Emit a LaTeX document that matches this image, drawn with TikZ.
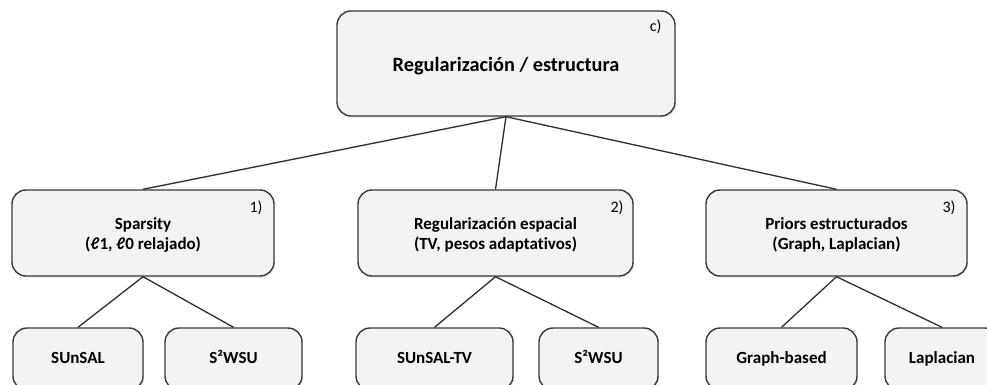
\documentclass[tikz,border=0pt]{standalone}
\usepackage{fontspec}
\setmainfont[Ligatures=NoCommon]{Carlito}
\usetikzlibrary{shadows}
\definecolor{boxfill}{HTML}{F3F3F3}
\definecolor{boxline}{HTML}{3A3A3A}
\definecolor{wire}{HTML}{2E2E2E}
\begin{document}
\begin{tikzpicture}[x=1pt,y=-1pt,
  box/.style={draw=boxline, fill=boxfill, line width=1.4pt, rounded corners=14pt,
    inner sep=0pt, drop shadow={opacity=0.22, shadow xshift=1.2pt, shadow yshift=-1.6pt}},
  title/.style={font=\fontsize{20.3}{24}\selectfont\bfseries, text=black, inner sep=0pt},
  head/.style={font=\fontsize{17}{20}\selectfont\bfseries, text=black, inner sep=0pt},
  leaf/.style={font=\fontsize{17}{20}\selectfont\bfseries, text=black, inner sep=0pt},
  tag/.style={font=\fontsize{16}{19}\selectfont, text=black, inner sep=0pt, anchor=base east},
  wire/.style={draw=wire, line width=1.3pt}]
\useasboundingbox (0,0) rectangle (987,385);
\clip (0,0) rectangle (987,385);
\fill[white] (0,0) rectangle (987,385);

% top level
\node[box, minimum width=338pt, minimum height=105pt] (top) at (506,63.5) {};
\node[title, anchor=base] (topT) at (506,72) {Regularización / estructura};
\node[tag] (topN) at ([shift={(-14,21)}]top.north east) {c)};

% second level
\node[box, minimum width=262pt, minimum height=86pt] (sp) at (143,233) {};
\node[box, minimum width=275pt, minimum height=86pt] (re) at (495.5,233) {};
\node[box, minimum width=261pt, minimum height=86pt] (pr) at (836.5,233) {};
\node[head, anchor=base] (spA) at (143,229) {Sparsity};
\node[head, anchor=base] (spB) at (143,249) {(ℓ1, ℓ0 relajado)};
\node[head, anchor=base] (reA) at (495.5,229) {Regularización espacial};
\node[head, anchor=base] (reB) at (495.5,249) {(TV, pesos adaptativos)};
\node[head, anchor=base] (prA) at (836.5,229) {Priors estructurados};
\node[head, anchor=base] (prB) at (836.5,249) {(Graph, Laplacian)};
\node[tag] (spN) at ([shift={(-12,23)}]sp.north east) {1)};
\node[tag] (reN) at ([shift={(-10,23)}]re.north east) {2)};
\node[tag] (prN) at ([shift={(-12,23)}]pr.north east) {3)};

% leaves
\node[box, minimum width=130pt, minimum height=62pt] (a1) at (78,359) {};
\node[box, minimum width=137pt, minimum height=62pt] (a2) at (233.5,359) {};
\node[box, minimum width=157pt, minimum height=62pt] (b1) at (434.5,359) {};
\node[box, minimum width=119pt, minimum height=62pt] (b2) at (598.5,359) {};
\node[box, minimum width=151pt, minimum height=62pt] (c1) at (781.5,359) {};
\node[box, minimum width=114pt, minimum height=62pt] (c2) at (942,359) {};
\node[leaf, anchor=base] (a1T) at (78,363) {SUnSAL};
\node[leaf, anchor=base] (a2T) at (233.5,363) {S²WSU};
\node[leaf, anchor=base] (b1T) at (434.5,363) {SUnSAL-TV};
\node[leaf, anchor=base] (b2T) at (598.5,363) {S²WSU};
\node[leaf, anchor=base] (c1T) at (781.5,363) {Graph-based};
\node[leaf, anchor=base] (c2T) at (942,363) {Laplacian};

% connectors
\draw[wire] (top.south) -- (sp.north);
\draw[wire] (top.south) -- (re.north);
\draw[wire] (top.south) -- (pr.north);
\draw[wire] (sp.south) -- (a1.north);
\draw[wire] (sp.south) -- (a2.north);
\draw[wire] (re.south) -- (b1.north);
\draw[wire] (re.south) -- (b2.north);
\draw[wire] (pr.south) -- (c1.north);
\draw[wire] (pr.south) -- (c2.north);
\end{tikzpicture}
\end{document}
